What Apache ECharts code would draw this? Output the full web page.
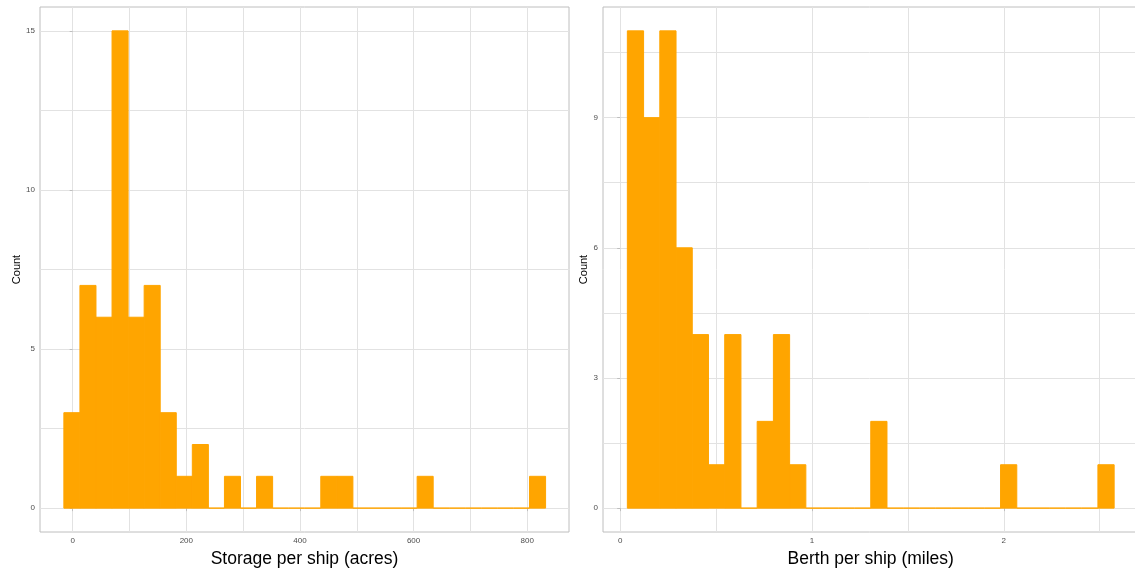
<!DOCTYPE html>
<html>
<head>
<meta charset="utf-8">
<script src="https://cdn.jsdelivr.net/npm/echarts@6/dist/echarts.min.js"></script>
<style>
  html, body { margin: 0; padding: 0; background: #ffffff; }
  #chart { width: 1135px; height: 571px; }
</style>
</head>
<body>
<div id="chart"></div>
<script>
// Storage per ship histogram (30 equal-width bins)
const storageBinStart = -15.5;
const storageBinWidth = 28.26;
const storageCounts = [3, 7, 6, 15, 6, 7, 3, 1, 2, 0, 1, 0, 1, 0, 0, 0, 1, 1, 0, 0, 0, 0, 1, 0, 0, 0, 0, 0, 0, 1];

// Berth per ship histogram (30 equal-width bins)
const berthBinStart = 0.0375;
const berthBinWidth = 0.0846;
const berthCounts = [11, 9, 11, 6, 4, 1, 4, 0, 2, 4, 1, 0, 0, 0, 0, 2, 0, 0, 0, 0, 0, 0, 0, 1, 0, 0, 0, 0, 0, 1];

// Axis breaks: labelled ticks and the finer grid lines
const storageXTicks = [0, 200, 400, 600, 800];
const storageXGrid = [0, 100, 200, 300, 400, 500, 600, 700, 800];
const storageYTicks = [0, 5, 10, 15];
const storageYGrid = [0, 2.5, 5, 7.5, 10, 12.5, 15];

const berthXTicks = [0, 1, 2];
const berthXGrid = [0, 0.5, 1, 1.5, 2, 2.5];
const berthYTicks = [0, 3, 6, 9];
const berthYGrid = [0, 1.5, 3, 4.5, 6, 7.5, 9, 10.5];

const FONT = '"Liberation Sans", Arial, Helvetica, sans-serif';
const BAR = '#FFA500';
const GRID_LINE = '#E2E2E2';
const BORDER = '#BEBEBE';

function bins(start, width, counts) {
  return counts.map((c, i) => [start + i * width, start + (i + 1) * width, c]);
}

function renderBin(params, api) {
  const top = api.coord([api.value(0), api.value(2)]);
  const base = api.coord([api.value(1), 0]);
  return {
    type: 'rect',
    shape: { x: top[0], y: top[1], width: base[0] - top[0], height: base[1] - top[1] },
    style: { fill: BAR, stroke: BAR, lineWidth: 1 }
  };
}

function gridAxis(gridIndex, min, max, values, position) {
  return {
    type: 'value', gridIndex, min, max, position,
    axisLine: { show: false },
    axisTick: { show: false, customValues: values },
    axisLabel: { show: false },
    splitLine: { show: true, lineStyle: { color: GRID_LINE, width: 1 } }
  };
}

function labelAxis(gridIndex, min, max, values, name, isX, nameGap) {
  return {
    type: 'value', gridIndex, min, max,
    position: isX ? 'bottom' : 'left',
    offset: 0,
    name,
    nameLocation: 'middle',
    nameGap,
    nameTextStyle: isX
      ? { fontFamily: FONT, fontSize: 17.5, color: '#000000' }
      : { fontFamily: FONT, fontSize: 11, color: '#000000' },
    axisLine: { show: false },
    axisTick: { show: true, length: 3, customValues: values, lineStyle: { color: BORDER, width: 1 } },
    axisLabel: { show: true, customValues: values, margin: 5, fontFamily: FONT, fontSize: 8, color: '#4D4D4D' },
    splitLine: { show: false }
  };
}

const chart = echarts.init(document.getElementById('chart'), null, { renderer: 'canvas' });

const storageXMin = -57.5, storageXMax = 873.5;
const storageYMin = -0.75, storageYMax = 15.75;
const berthXMin = -0.0895, berthXMax = 2.7025;
const berthYMin = -0.55, berthYMax = 11.55;

const panelStyle = {
  top: 7, height: 525, show: true, borderColor: BORDER, borderWidth: 1,
  backgroundColor: 'transparent', containLabel: false, outerBoundsMode: 'none'
};

chart.setOption({
  animation: false,
  backgroundColor: '#ffffff',
  grid: [
    Object.assign({ left: 40, width: 529 }, panelStyle),
    Object.assign({ left: 603, width: 535.5 }, panelStyle)
  ],
  xAxis: [
    gridAxis(0, storageXMin, storageXMax, storageXGrid, 'bottom'),
    labelAxis(0, storageXMin, storageXMax, storageXTicks, 'Storage per ship (acres)', true, 13),
    gridAxis(1, berthXMin, berthXMax, berthXGrid, 'bottom'),
    labelAxis(1, berthXMin, berthXMax, berthXTicks, 'Berth per ship (miles)', true, 13)
  ],
  yAxis: [
    gridAxis(0, storageYMin, storageYMax, storageYGrid, 'left'),
    labelAxis(0, storageYMin, storageYMax, storageYTicks, 'Count', false, 14),
    gridAxis(1, berthYMin, berthYMax, berthYGrid, 'left'),
    labelAxis(1, berthYMin, berthYMax, berthYTicks, 'Count', false, 9)
  ],
  series: [
    {
      type: 'custom', xAxisIndex: 1, yAxisIndex: 1,
      renderItem: renderBin,
      encode: { x: [0, 1], y: 2 },
      data: bins(storageBinStart, storageBinWidth, storageCounts)
    },
    {
      type: 'custom', xAxisIndex: 3, yAxisIndex: 3,
      renderItem: renderBin,
      encode: { x: [0, 1], y: 2 },
      data: bins(berthBinStart, berthBinWidth, berthCounts)
    }
  ]
});
</script>
</body>
</html>
